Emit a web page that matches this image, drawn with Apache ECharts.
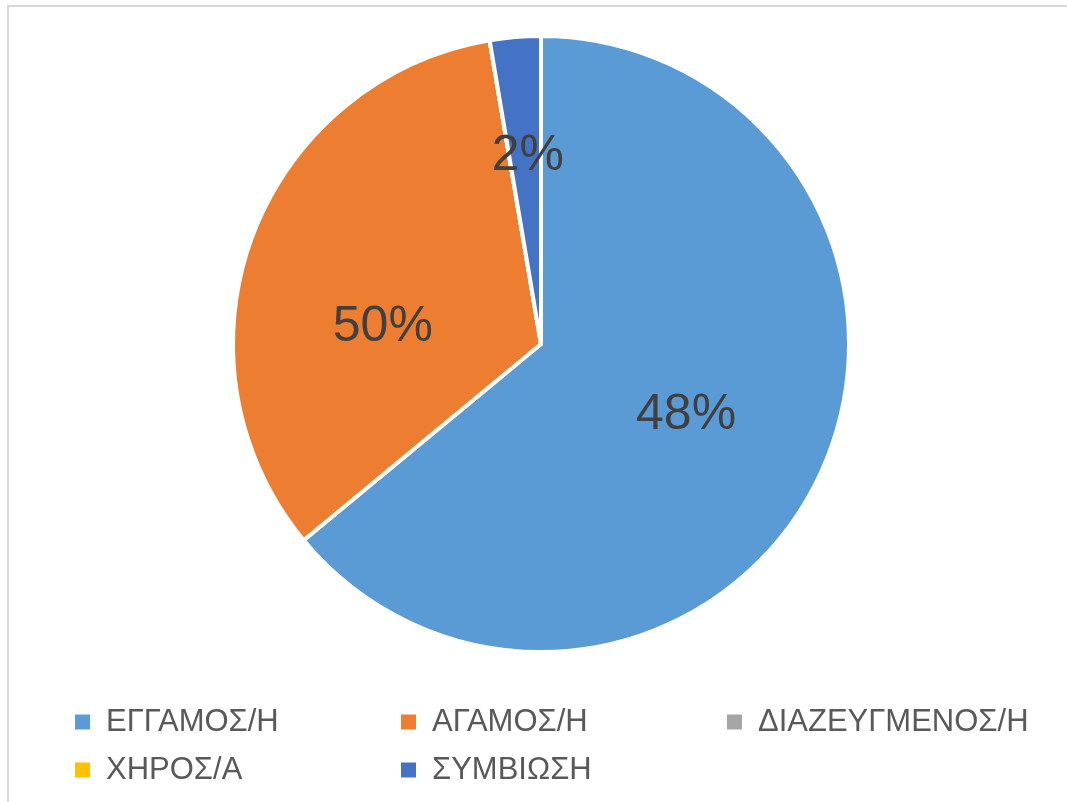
<!DOCTYPE html>
<html>
<head>
<meta charset="utf-8">
<script src="https://cdn.jsdelivr.net/npm/echarts@6/dist/echarts.min.js"></script>
<style>html,body{margin:0;padding:0;background:#fff}#c{width:1067px;height:802px}</style>
</head>
<body>
<div id="c"></div>
<script>
const categories = ['ΕΓΓΑΜΟΣ/Η', 'ΑΓΑΜΟΣ/Η', 'ΔΙΑΖΕΥΓΜΕΝΟΣ/Η', 'ΧΗΡΟΣ/Α', 'ΣΥΜΒΙΩΣΗ'];
const values = [48, 25, 0, 0, 2];
const labelTexts = ['48%', '50%', '', '', '2%'];
const colors = ['#5B9BD5', '#ED7D31', '#A5A5A5', '#FFC000', '#4472C4'];
const labelOffsets = [[3, 4], [-11, 38], [0, 0], [0, 0], [0, -31]];

const chart = echarts.init(document.getElementById('c'));
chart.setOption({
  animation: false,
  backgroundColor: '#fff',
  graphic: [{
    type: 'rect', shape: { x: 8, y: 6, width: 1070, height: 800 },
    style: { fill: 'none', stroke: '#d9d9d9', lineWidth: 2 }, silent: true
  }],
  legend: {
    left: 70, top: 693, width: 1000,
    itemWidth: 15, itemHeight: 15, itemGap: 0,
    icon: 'rect',
    itemStyle: { borderWidth: 0 },
    data: categories,
    textStyle: {
      fontFamily: 'Liberation Sans', fontSize: 31, color: '#595959',
      width: 295, lineHeight: 48, padding: [0, 0, 0, 11]
    }
  },
  series: [{
    type: 'pie',
    center: [541, 344],
    radius: 308,
    startAngle: 90,
    clockwise: true,
    avoidLabelOverlap: false,
    itemStyle: { borderColor: '#fff', borderWidth: 4 },
    emphasis: { disabled: true },
    labelLine: { show: false },
    data: categories.map((n, i) => ({
      name: n, value: values[i],
      itemStyle: { color: colors[i] },
      label: {
        show: labelTexts[i] !== '', position: 'inside',
        formatter: labelTexts[i], offset: labelOffsets[i],
        fontFamily: 'Liberation Sans', fontSize: 50, color: '#404040'
      }
    }))
  }]
});
</script>
</body>
</html>
